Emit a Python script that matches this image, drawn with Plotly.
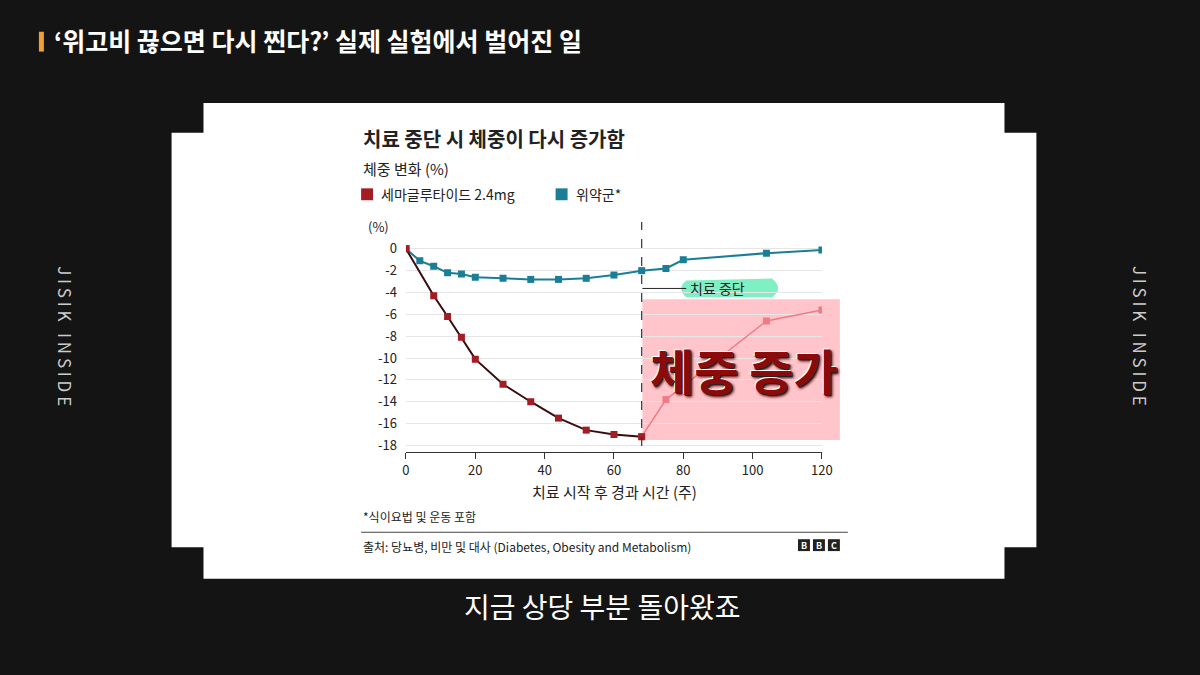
import plotly.graph_objects as go

sema_weeks = [0, 8, 12, 16, 20, 28, 36, 44, 52, 60, 68]
sema_vals = [0, -4.3, -6.2, -8.1, -10.1, -12.4, -14.0, -15.5, -16.6, -17.0, -17.2]
sema_off_weeks = [68, 75, 104, 120]
sema_off_vals = [-17.2, -13.8, -6.6, -5.6]
plac_weeks = [0, 4, 8, 12, 16, 20, 28, 36, 44, 52, 60, 68, 75, 80, 104, 120]
plac_vals = [0, -1.1, -1.6, -2.2, -2.3, -2.6, -2.7, -2.8, -2.8, -2.7, -2.4, -2.0, -1.8, -1.0, -0.4, -0.1]
x_ticks = [0, 20, 40, 60, 80, 100, 120]
y_ticks = [0, -2, -4, -6, -8, -10, -12, -14, -16, -18]

W, H = 1188, 675
def px(x): return x / W
def py(y): return 1 - y / H

FONT = "Noto Sans CJK KR"
RED, TEAL, PINK = "#a51d24", "#1a7f96", "#f07b85"

fig = go.Figure()
fig.add_trace(go.Scatter(x=sema_off_weeks, y=sema_off_vals, mode="lines+markers",
    line=dict(color=PINK, width=1.5), marker=dict(symbol="square", size=7, color=PINK), showlegend=False))
fig.add_trace(go.Scatter(x=plac_weeks, y=plac_vals, mode="lines+markers",
    line=dict(color=TEAL, width=2), marker=dict(symbol="square", size=7, color=TEAL), showlegend=False))
fig.add_trace(go.Scatter(x=sema_weeks, y=sema_vals, mode="lines+markers",
    line=dict(color="#3a0d0d", width=2), marker=dict(symbol="square", size=7, color=RED), showlegend=False))

shapes = []
shapes.append(dict(type="path", xref="paper", yref="paper", layer="below",
    path=f"M {px(200)} {py(100)} L {px(1003)} {py(100)} L {px(1003)} {py(130)} L {px(1035)} {py(130)} L {px(1035)} {py(548)} L {px(1003)} {py(548)} L {px(1003)} {py(580)} L {px(200)} {py(580)} L {px(200)} {py(548)} L {px(168)} {py(548)} L {px(168)} {py(130)} L {px(200)} {py(130)} Z",
    fillcolor="white", line=dict(width=0)))
shapes.append(dict(type="rect", xref="paper", yref="paper", x0=px(640), x1=px(838), y0=py(440), y1=py(298),
    fillcolor="rgba(255,150,160,0.55)", line=dict(width=0), layer="below"))
shapes.append(dict(type="path", xref="paper", yref="paper", layer="below",
    path=f"M {px(684)} {py(279)} L {px(770)} {py(277)} Q {px(782)} {py(287)} {px(770)} {py(296)} L {px(684)} {py(296)} Q {px(674)} {py(287)} {px(684)} {py(279)} Z",
    fillcolor="#7ef0c4", line=dict(width=0)))
shapes.append(dict(type="line", xref="x", yref="paper", x0=68, x1=68, y0=py(446), y1=py(220),
    line=dict(color="#333", width=1.2, dash="dash")))
shapes.append(dict(type="line", xref="paper", yref="paper", x0=px(640), x1=px(684), y0=py(287), y1=py(287),
    line=dict(color="#222", width=1)))
shapes.append(dict(type="line", xref="paper", yref="paper", x0=px(358), x1=px(846), y0=py(533), y1=py(533),
    line=dict(color="#444", width=1)))
shapes.append(dict(type="rect", xref="paper", yref="paper", x0=px(35), x1=px(40), y0=py(48), y1=py(28),
    fillcolor="#f0a030", line=dict(width=0)))
shapes.append(dict(type="rect", xref="paper", yref="paper", x0=px(358), x1=px(370), y0=py(198), y1=py(186), fillcolor=RED, line=dict(width=0)))
shapes.append(dict(type="rect", xref="paper", yref="paper", x0=px(553), x1=px(565), y0=py(198), y1=py(186), fillcolor=TEAL, line=dict(width=0)))
for i, ch in enumerate("BBC"):
    shapes.append(dict(type="rect", xref="paper", yref="paper", x0=px(796 + i * 15), x1=px(808 + i * 15),
        y0=py(552), y1=py(540), fillcolor="#222", line=dict(width=0)))

ann = []
def t(x, y, text, size, color="#222", bold=False, xanchor="left", **kw):
    ann.append(dict(xref="paper", yref="paper", x=px(x), y=py(y), text=f"<b>{text}</b>" if bold else text,
        showarrow=False, xanchor=xanchor, yanchor="middle", font=dict(family=FONT, size=size, color=color, **kw.pop("fontkw", {})), **kw))

t(48, 36, "‘위고비 끊으면 다시 찐다?’ 실제 실험에서 벌어진 일", 25, "white", True)
t(358, 136, "치료 중단 시 체중이 다시 증가함", 20, "#222", True)
t(358, 166, "체중 변화 (%)", 15)
t(376, 192, "세마글루타이드 2.4mg", 14)
t(571, 192, "위약군*", 14)
t(363, 225, "(%)", 13)
t(612, 492, "치료 시작 후 경과 시간 (주)", 15, xanchor="center")
t(358, 517, "*식이요법 및 운동 포함", 12)
t(358, 547, "출처: 당뇨병, 비만 및 대사 (Diabetes, Obesity and Metabolism)", 12)
for i, ch in enumerate("BBC"):
    t(802 + i * 15, 546, ch, 9, "white", True, xanchor="center")
t(686, 287, "치료 중단", 14)
t(742, 368, "체중 증가", 48, "#8b0a0a", True, xanchor="center",
  fontkw=dict(shadow="1px 1px 0 #222, -1px -1px 0 #fff, 2px 2px 3px #400"))
t(600, 607, "지금 상당 부분 돌아왔죠", 28, "white", xanchor="center")
t(62, 335, "J I S I K   I N S I D E", 17, "#cccccc", xanchor="center", textangle=90)
t(1140, 335, "J I S I K   I N S I D E", 17, "#cccccc", xanchor="center", textangle=90)

fig.update_layout(
    autosize=True, margin=dict(l=0, r=0, t=0, b=0),
    paper_bgcolor="#141414", plot_bgcolor="rgba(0,0,0,0)",
    shapes=shapes, annotations=ann, showlegend=False,
    xaxis=dict(domain=[px(403), px(820)], range=[0, 120], tickvals=x_ticks, showgrid=False, zeroline=False,
        showline=True, linecolor="#333", ticks="outside", ticklen=6, tickcolor="#333",
        tickfont=dict(family=FONT, size=13, color="#222"), anchor="free", position=py(452)),
    yaxis=dict(domain=[py(452), py(240.4)], range=[-18.6, 0.6], tickvals=y_ticks,
        ticktext=[str(v) for v in y_ticks], showgrid=True, gridcolor="#e6e6e6", zeroline=False,
        tickfont=dict(family=FONT, size=13, color="#222"), ticks="", ticklabelstandoff=8),
)
fig.write_html("out.html", default_width="100vw", default_height="100vh",
    config={"displayModeBar": False, "responsive": True},
    post_script="document.documentElement.style.overflow='hidden';document.documentElement.style.margin='0';document.body.style.margin='0';document.body.style.overflow='hidden';document.body.style.background='#141414';Plotly.Plots.resize(document.getElementById('{plot_id}'));")
